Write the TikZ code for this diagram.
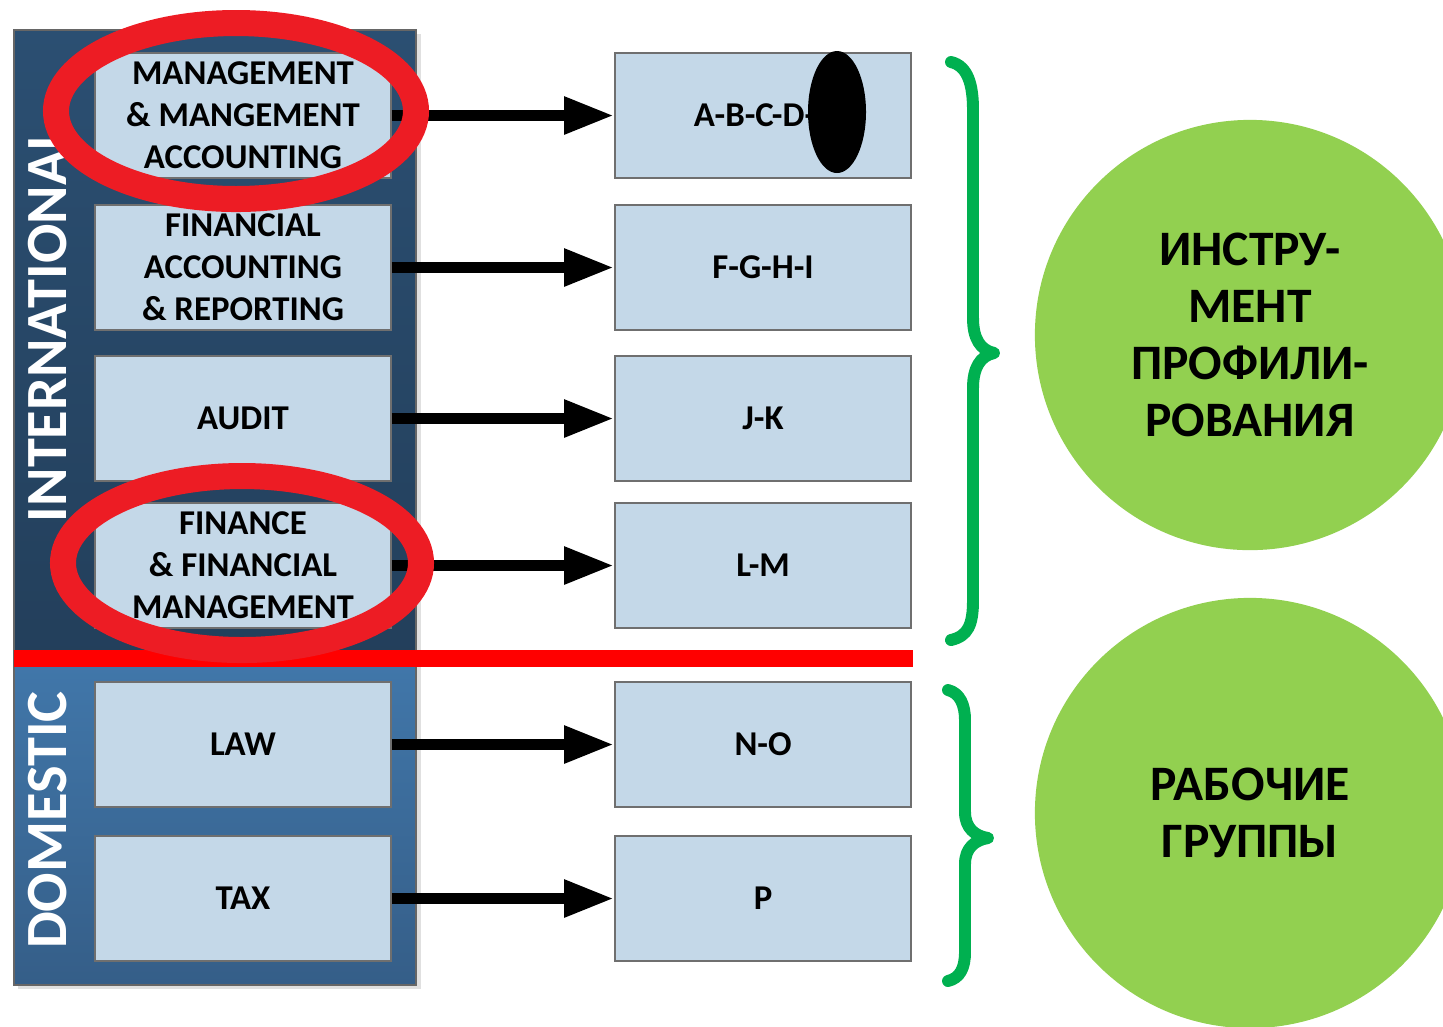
\documentclass[tikz,border=0pt]{standalone}
\usepackage{fontspec}
\setmainfont{Carlito}
\usetikzlibrary{positioning,arrows.meta}

\definecolor{navyT}{HTML}{2B4F72}
\definecolor{navyB}{HTML}{233F5B}
\definecolor{steelT}{HTML}{4177AA}
\definecolor{steelB}{HTML}{355E88}
\definecolor{boxblue}{HTML}{C4D8E8}
\definecolor{boxgray}{HTML}{6F6F6F}
\definecolor{ringred}{HTML}{ED1C24}
\definecolor{linered}{HTML}{FF0000}
\definecolor{bracegreen}{HTML}{00B050}
\definecolor{blobgreen}{HTML}{92D050}

\tikzset{
  box/.style={draw=boxgray, line width=0.5pt, fill=boxblue, minimum width=2.96cm,
    minimum height=1.25cm, inner sep=0pt, align=center,
    font=\fontsize{9.9}{11.95}\selectfont\bfseries},
  arr/.style={line width=3.2pt, -{Triangle[length=5mm,width=3.5mm]}},
  ring/.style={draw=ringred, line width=7.4pt},
  brace/.style={draw=bracegreen, line width=3.4pt, line cap=round, line join=round},
  side/.style={text=white, inner sep=0pt, rotate=90,
    font=\fontsize{16.6}{20}\selectfont\bfseries},
  blob/.style={circle, fill=blobgreen, minimum size=4.3cm, inner sep=0pt, align=center,
    font=\fontsize{14.1}{16.2}\selectfont\bfseries}
}

\begin{document}
\begin{tikzpicture}[x=0.01cm,y=-0.01cm]
\useasboundingbox (0,0) rectangle (1443,1026);
\clip (0,0) rectangle (1443,1026);

% panel
\fill[black!12] (18,34) rectangle (421,989);
\fill[top color=navyT, bottom color=navyB] (14,30) rectangle (416,659);
\fill[top color=steelT, bottom color=steelB] (14,659) rectangle (416,985);
\draw[black!60, line width=0.4pt] (14,30) rectangle (416,985);
\node[side] (intl) at (48,324) {INTERNATIONAL};
\node[side] (dom) at (48,820) {DOMESTIC};

% subjects
\node[box] (mgmt) at (243,115.5) {MANAGEMENT\\\& MANGEMENT\\ACCOUNTING};
\node[box] (fin) at (243,267.5) {FINANCIAL\\ACCOUNTING\\\& REPORTING};
\node[box] (audit) at (243,418.5) {AUDIT};
\node[box] (ffm) at (243,565.5) {FINANCE\\\& FINANCIAL\\MANAGEMENT};
\node[box] (law) at (243,744.5) {LAW};
\node[box] (tax) at (243,898.5) {TAX};

\node[box, right=2.22cm of mgmt] (abcd) {A-B-C-D-\phantom{E}};
\node[box, right=2.22cm of fin] (fghi) {F-G-H-I};
\node[box, right=2.22cm of audit] (jk) {J-K};
\node[box, right=2.22cm of ffm] (lm) {L-M};
\node[box, right=2.22cm of law] (no) {N-O};
\node[box, right=2.22cm of tax] (p) {P};

\foreach \a/\b in {mgmt/abcd,fin/fghi,audit/jk,ffm/lm,law/no,tax/p}
  \draw[arr] (\a) -- (\b);

\fill[linered] (14,650) rectangle (913,667);

\draw[ring] (236,111) ellipse (180 and 88);
\draw[ring] (242,563) ellipse (179 and 87);
\fill[black] (837,112) ellipse (29 and 61);

% braces
\draw[brace] (951,62) .. controls (968,66) and (973,85) .. (973,110) -- (973,318)
  .. controls (973,338) and (980,350) .. (994,353)
  .. controls (980,356) and (973,368) .. (973,388) -- (973,600)
  .. controls (973,625) and (968,636) .. (951,640);
\draw[brace] (948,690) .. controls (960,693) and (965,705) .. (965,720) -- (965,812)
  .. controls (965,828) and (975,836) .. (988,838)
  .. controls (975,840) and (965,848) .. (965,864) -- (965,952)
  .. controls (965,968) and (960,978) .. (948,981);

\node[blob] (tool) at (1250,335) {ИНСТРУ-\\МЕНТ\\ПРОФИЛИ-\\РОВАНИЯ};
\node[blob] (groups) at (1250,813) {РАБОЧИЕ\\ГРУППЫ};
\end{tikzpicture}
\end{document}
